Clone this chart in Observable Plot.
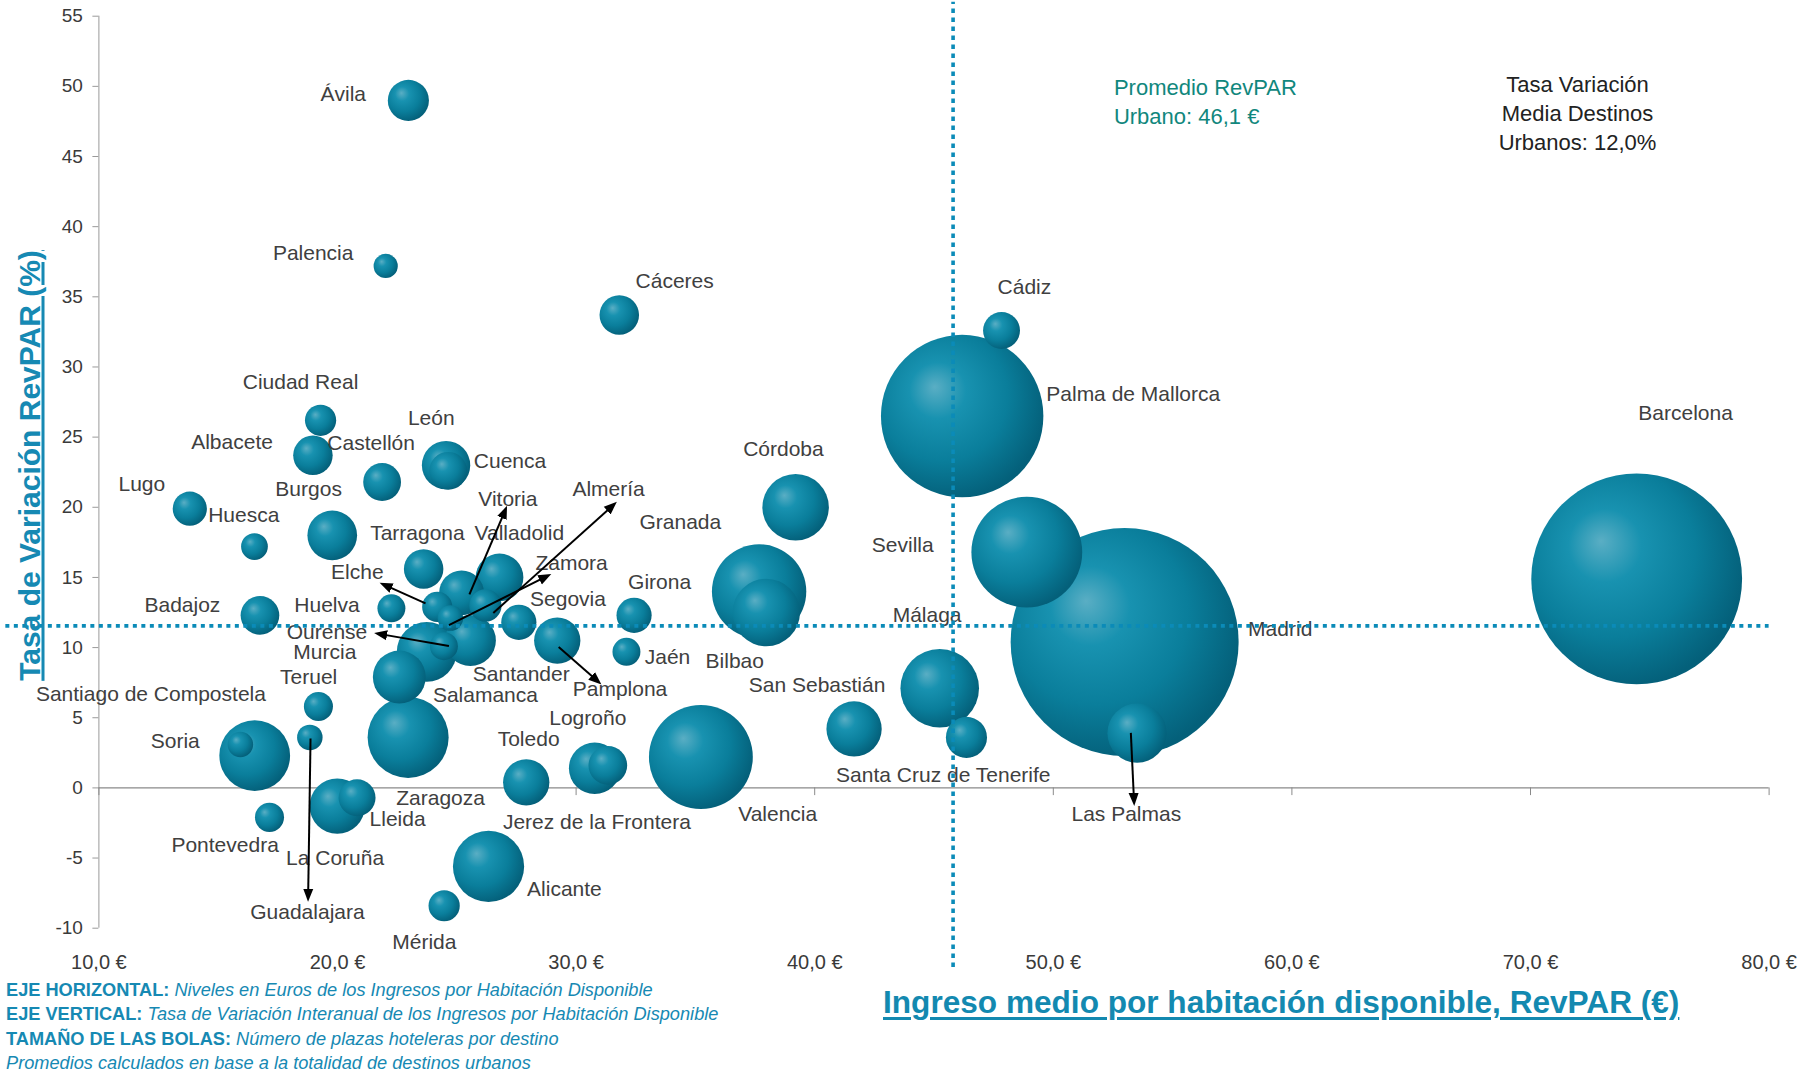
<!DOCTYPE html>
<html><head><meta charset="utf-8">
<script src="https://cdn.jsdelivr.net/npm/d3@7"></script>
<script src="https://cdn.jsdelivr.net/npm/@observablehq/plot@0.6"></script>
<style>
html,body{margin:0;padding:0;background:#fff;overflow:hidden;}
#wrap{position:relative;width:1816px;height:1072px;font-family:"Liberation Sans",Arial,sans-serif;}
#notes{position:absolute;left:6px;top:978px;color:#1689b3;font-size:18.2px;line-height:24.4px;white-space:nowrap;}
#xtitle{position:absolute;left:883px;top:987px;font-size:31.6px;line-height:31px;font-weight:bold;color:#1389b0;text-decoration:underline;text-decoration-thickness:3px;text-underline-offset:4px;white-space:nowrap;}
</style></head>
<body>
<div id="wrap">
<div id="chart"></div>
<div id="notes">
<div><b>EJE HORIZONTAL:</b> <i>Niveles en Euros de los Ingresos por Habitación Disponible</i></div>
<div><b>EJE VERTICAL:</b> <i>Tasa de Variación Interanual de los Ingresos por Habitación Disponible</i></div>
<div><b>TAMAÑO DE LAS BOLAS:</b> <i>Número de plazas hoteleras por destino</i></div>
<div><i>Promedios calculados en base a la totalidad de destinos urbanos</i></div>
</div>
<div id="xtitle">Ingreso medio por habitación disponible, RevPAR (€)</div>
</div>
<script>
// ---- data ----
const names = ["Ávila","Palencia","Cáceres","Cádiz","Palma de Mallorca","Barcelona","Ciudad Real","Albacete","Castellón","León","Cuenca","Lugo","Huesca","Burgos","Córdoba","Tarragona","Valladolid","Vitoria","Elche","Huelva","Badajoz","Zamora","Almería","Segovia","Pamplona","Girona","Jaén","Granada","Bilbao","Sevilla","Madrid","Málaga","Santa Cruz de Tenerife","San Sebastián","Las Palmas","Ourense","Murcia","Salamanca","Santander","Teruel","Zaragoza","Santiago de Compostela","Soria","Guadalajara","Pontevedra","La Coruña","Lleida","Toledo","Logroño","Jerez de la Frontera","Valencia","Alicante","Mérida"];
const revpar = [22.97,22.02,31.81,47.83,46.18,74.45,19.29,18.97,21.87,24.55,24.64,13.81,16.52,19.78,39.2,23.61,26.79,25.2,24.18,22.26,16.75,24.73,26.2,27.6,29.21,32.43,32.11,37.67,37.97,48.89,52.99,45.24,46.36,41.65,53.51,24.46,23.74,22.59,25.57,19.2,22.96,16.53,15.93,18.84,17.15,19.99,20.82,27.91,30.78,31.33,35.23,26.33,24.47];
const variacion = [49.0,37.2,33.7,32.6,26.5,14.9,26.2,23.7,21.8,23.0,22.6,19.9,17.2,18.0,20.0,15.6,15.0,13.9,12.9,12.8,12.3,12.1,13.0,11.8,10.5,12.3,9.7,14.0,12.5,16.8,10.4,7.1,3.6,4.2,3.9,10.1,9.7,7.9,10.5,5.8,3.6,2.3,3.1,3.6,-2.1,-1.3,-0.7,0.4,1.4,1.6,2.2,-5.6,-8.4];
const plazas = [2600,900,2400,2100,40600,68400,1500,2400,2200,3600,2200,1800,1100,3800,6800,2400,3500,3100,1400,1200,2300,1000,1600,1900,3300,1900,1200,13700,7000,18900,80000,9500,2600,4700,5400,1200,5500,4300,4000,1300,10100,7700,1000,1000,1300,4700,2100,3300,4100,2300,16600,7800,1500];
const labelX = [20.24,18.98,34.13,48.79,53.35,76.5,18.45,15.58,21.41,23.93,27.23,11.8,16.07,18.79,38.69,23.35,27.62,27.14,20.83,19.56,13.5,29.81,31.36,29.66,31.84,33.5,33.83,34.37,36.65,43.69,59.51,44.71,45.39,40.1,53.06,19.56,19.47,26.2,27.7,18.79,24.32,12.18,13.2,18.74,15.29,19.9,22.52,28.01,30.49,30.87,38.45,29.51,23.64];
const labelY = [49.47,38.07,36.09,35.68,28.08,26.68,28.91,24.61,24.53,26.35,23.29,21.64,19.41,21.31,24.12,18.17,18.17,20.57,15.36,13.05,13.05,16.02,21.31,13.46,7.02,14.62,9.33,18.91,9.0,17.26,11.31,12.31,0.91,7.35,-1.9,11.07,9.66,6.6,8.1,7.9,-0.74,6.69,3.3,-8.84,-4.1,-5.04,-2.23,3.47,4.96,-2.48,-1.9,-7.19,-10.98];

// arrows linking bubbles to their labels
const arrowCity = ["Elche","Vitoria","Zamora","Almería","Ourense","Pamplona","Guadalajara","Las Palmas"];
const arrowX1 = [23.69,25.53,24.67,26.53,24.67,29.27,18.87,53.25];
const arrowY1 = [13.15,13.79,11.6,12.47,10.12,10.05,3.52,3.92];
const arrowX2 = [22.01,27.0,28.72,31.51,21.8,30.86,18.77,53.38];
const arrowY2 = [14.43,19.68,15.04,20.08,10.96,7.67,-7.66,-0.83];

const xTicks = [10,20,30,40,50,60,70,80];
const yTicks = [-10,-5,0,5,10,15,20,25,30,35,40,45,50,55];
const avgRevpar = 45.8;   // drawn position of "Promedio RevPAR"
const avgVariacion = 11.55; // drawn position of mean growth line
const noteRevpar = ["Promedio RevPAR\nUrbano: 46,1 €"];
const noteVariacion = ["Tasa Variación\nMedia Destinos\nUrbanos: 12,0%"];
const yTitle = ["Tasa de Variación RevPAR (%)"];

const cities = names.map((name, i) => ({name, revpar: revpar[i], variacion: variacion[i], plazas: plazas[i], lx: labelX[i], ly: labelY[i]}));
const arrows = arrowCity.map((c, i) => ({c, x1: arrowX1[i], y1: arrowY1[i], x2: arrowX2[i], y2: arrowY2[i]}));

const blue = "#0b8bb8";
const font = "'Liberation Sans', Arial, sans-serif";

const chart = Plot.plot({
  width: 1816,
  height: 975,
  marginLeft: 98.4,
  marginRight: 47.4,
  marginTop: 15.7,
  marginBottom: 47.3,
  style: {fontFamily: font, background: "white", overflow: "visible"},
  x: {domain: [10, 80], label: null},
  y: {domain: [-10, 55], label: null},
  r: {type: "sqrt", domain: [0, 80000], range: [0, 114]},
  marks: [
    Plot.axisY({ticks: yTicks, tickSize: 6, tickPadding: 10, fontSize: 19, stroke: "#9a9a9a", fill: "#3a3a3a", label: null, tickFormat: d => String(d)}),
    Plot.axisX({ticks: xTicks, anchor: "bottom", tickSize: 0, tickPadding: 27, fontSize: 20, fill: "#3a3a3a", label: null, tickFormat: d => d.toFixed(1).replace(".", ",") + " €"}),
    Plot.ruleX([10], {y1: -10, y2: 55, stroke: "#9a9a9a"}),
    Plot.ruleY([0], {x1: 10, x2: 80, stroke: "#8a8a8a", strokeWidth: 1.2}),
    Plot.ruleX(xTicks, {x: d => d, y1: 0, y2: -0.55, stroke: "#8a8a8a"}),
    Plot.dot(cities, {x: "revpar", y: "variacion", r: "plazas", fill: "#0a7f9c", stroke: "none"}),
    Plot.text(cities, {x: "lx", y: "ly", text: "name", fontSize: 21, fill: "#404040"}),
    Plot.ruleX([avgRevpar], {y1: -12.8, y2: 56, stroke: blue, strokeWidth: 3.6, strokeDasharray: "4.5,4.5"}),
    Plot.ruleY([avgVariacion], {x1: 6.1, x2: 80, stroke: blue, strokeWidth: 3.6, strokeDasharray: "4,4.5"}),
    Plot.link(arrows, {x1: "x1", y1: "y1", x2: "x2", y2: "y2", stroke: "#000", strokeWidth: 2, markerEnd: "arrow"}),
    Plot.text(noteRevpar, {x: 52.54, y: 49.0, text: d => d, textAnchor: "start", fontSize: 22, lineHeight: 1.32, fill: "#11877d"}),
    Plot.text(noteVariacion, {x: 71.97, y: 48.2, text: d => d, textAnchor: "middle", fontSize: 22, lineHeight: 1.31, fill: "#222"}),
    Plot.text(yTitle, {frameAnchor: "left", text: d => d, textAnchor: "middle", lineAnchor: "middle", rotate: -90, dx: -69, dy: -6.7, fontSize: 30, fontWeight: "bold", fill: "#1689b3"})
  ]
});

chart.insertAdjacentHTML("afterbegin", `<defs>
<radialGradient id="bubbleGrad" cx="0.4" cy="0.4" r="0.62" fx="0.33" fy="0.32">
<stop offset="0" stop-color="#5aaec4"/>
<stop offset="0.28" stop-color="#1892b0"/>
<stop offset="0.65" stop-color="#0a7e9b"/>
<stop offset="1" stop-color="#04607a"/>
</radialGradient></defs>`);
chart.querySelectorAll('g[aria-label="dot"] circle').forEach(c => c.setAttribute("fill", "url(#bubbleGrad)"));
chart.querySelectorAll("marker").forEach(m => {
  m.setAttribute("fill", "#000");
  m.setAttribute("stroke", "none");
  const p = m.querySelector("path");
  if (p) p.setAttribute("d", "M-5,-3.8L4.8,0L-5,3.8Z");
});
chart.querySelectorAll("text").forEach(t => {
  if (t.textContent === yTitle[0]) {
    t.setAttribute("text-decoration", "underline");
    t.style.textDecoration = "underline";
  }
});
document.getElementById("chart").appendChild(chart);
</script>
</body></html>
